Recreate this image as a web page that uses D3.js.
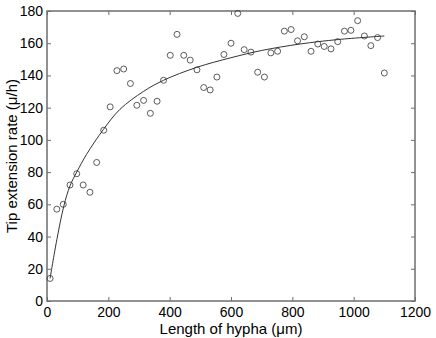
<!DOCTYPE html>
<html>
<head>
<meta charset="utf-8">
<script src="https://cdn.jsdelivr.net/npm/d3@7"></script>
<style>
  body { margin: 0; background: #fff; }
  text { font-family: "Liberation Sans", Arial, sans-serif; }
</style>
</head>
<body>
<script>
// measured points (length of hypha, tip extension rate)
const lengths = [10, 32, 53, 75, 97, 118, 140, 162, 185, 206, 228, 250, 272, 293, 315, 337,
  359, 380, 402, 424, 446, 467, 489, 511, 532, 554, 577, 600, 622, 643, 665, 687, 709, 730,
  752, 774, 796, 817, 839, 861, 883, 904, 926, 948, 970, 991, 1013, 1035, 1056, 1078, 1100];
const rates = [14, 57, 60, 72, 79, 72, 67.5, 86, 106, 120.5, 143, 144, 135, 121.5, 124.5, 116.5,
  124, 137, 152.5, 165.5, 152.5, 149.5, 143.5, 132.5, 131, 139, 153, 160, 178.5, 156, 154.5, 142, 139, 154,
  155, 167.5, 168.5, 161.5, 164, 155, 159.5, 158, 156.5, 161, 167.5, 168, 174, 164.5, 158.5, 163.5, 141.5];

// fitted curve
const fitX = [10, 32, 55, 75, 97, 129, 184, 238, 314, 380, 488, 600, 700, 825, 950, 1100];
const fitY = [14, 38, 59, 71.5, 80, 91, 106.5, 119, 130, 137, 145, 151, 155.5, 159.5, 162.3, 164.5];

const xTicks = [0, 200, 400, 600, 800, 1000, 1200];
const yTicks = [0, 20, 40, 60, 80, 100, 120, 140, 160, 180];

const width = 436, height = 338;
const margin = { top: 11, right: 21, bottom: 37, left: 47 };
const w = width - margin.left - margin.right;
const h = height - margin.top - margin.bottom;

const svg = d3.select('body').append('svg')
  .attr('width', width)
  .attr('height', height);

const g = svg.append('g')
  .attr('transform', `translate(${margin.left},${margin.top})`);

const x = d3.scaleLinear().domain([0, 1200]).range([0, w]);
const y = d3.scaleLinear().domain([0, 180]).range([h, 0]);

const tick = 4;
const axisColor = '#6e6e6e';

function styleAxis(sel) {
  sel.select('.domain').remove();
  sel.selectAll('line').attr('stroke', axisColor).attr('stroke-width', 1);
  sel.selectAll('text').attr('fill', '#000').style('font-size', '14px');
}

g.append('g')
  .attr('transform', `translate(0,${h})`)
  .call(d3.axisBottom(x).tickValues(xTicks).tickSize(-tick).tickSizeOuter(0)
    .tickPadding(6).tickFormat(d3.format('d')))
  .call(styleAxis);

g.append('g')
  .call(d3.axisTop(x).tickValues(xTicks).tickSize(-tick).tickSizeOuter(0).tickFormat(''))
  .call(styleAxis);

g.append('g')
  .call(d3.axisLeft(y).tickValues(yTicks).tickSize(-tick).tickSizeOuter(0)
    .tickPadding(4).tickFormat(d3.format('d')))
  .call(styleAxis);

g.append('g')
  .attr('transform', `translate(${w},0)`)
  .call(d3.axisRight(y).tickValues(yTicks).tickSize(-tick).tickSizeOuter(0).tickFormat(''))
  .call(styleAxis);

g.append('rect')
  .attr('width', w)
  .attr('height', h)
  .attr('fill', 'none')
  .attr('stroke', axisColor)
  .attr('stroke-width', 1.5);

const line = d3.line()
  .x((d, i) => x(fitX[i]))
  .y(d => y(d))
  .curve(d3.curveCatmullRom.alpha(0.5));

g.append('path')
  .datum(fitY)
  .attr('d', line)
  .attr('fill', 'none')
  .attr('stroke', '#333')
  .attr('stroke-width', 1);

g.selectAll('circle')
  .data(rates)
  .enter()
  .append('circle')
  .attr('cx', (d, i) => x(lengths[i]))
  .attr('cy', d => y(d))
  .attr('r', 3)
  .attr('fill', 'none')
  .attr('stroke', '#333')
  .attr('stroke-width', 0.8);

svg.append('text')
  .attr('x', margin.left + w / 2)
  .attr('y', 334)
  .attr('text-anchor', 'middle')
  .style('font-size', '15px')
  .text('Length of hypha (μm)');

svg.append('text')
  .attr('transform', `translate(17,${margin.top + h / 2}) rotate(-90)`)
  .attr('text-anchor', 'middle')
  .style('font-size', '15px')
  .text('Tip extension rate (μ/h)');
</script>
</body>
</html>
